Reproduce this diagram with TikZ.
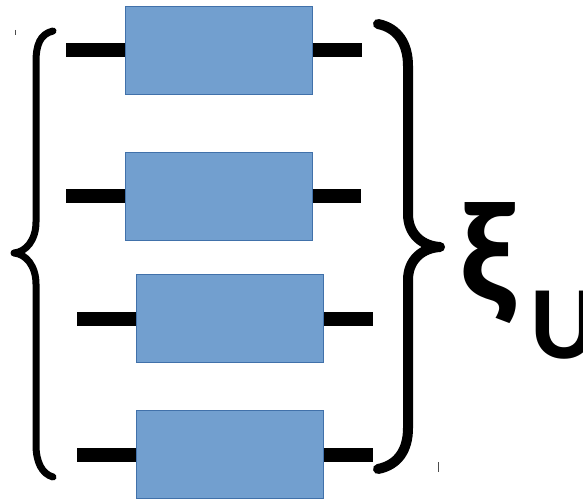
\documentclass[tikz,border=0pt]{standalone}
\usepackage{fontspec}
\setmainfont{Carlito}
\newfontfamily\labelfont{Carlito-Bold.ttf}
\definecolor{boxfill}{RGB}{114,159,207}
\definecolor{boxedge}{RGB}{65,113,170}
\begin{document}
\begin{tikzpicture}[x=1pt,y=-1pt,
  block/.style={draw=boxedge,fill=boxfill,line width=1pt,minimum width=187pt,minimum height=88pt,inner sep=0pt},
  lead/.style={line width=14pt,black},
  brace/.style={line width=#1,black,line cap=round,line join=round},
  tick/.style={line width=0.8pt,black!70}]
\useasboundingbox (0,0) rectangle (583,503);
% four resistor-like blocks with their leads
\node[block] (b1) at (218.5,50.5) {};
\node[block] (b2) at (218.5,196) {};
\node[block] (b3) at (230,318.5) {};
\node[block] (b4) at (230,454.5) {};
\coordinate (l1) at (66,50.5);  \coordinate (r1) at (362,50.5);
\coordinate (l2) at (66,196);   \coordinate (r2) at (361,196);
\coordinate (l3) at (77,318.5); \coordinate (r3) at (373,318.5);
\coordinate (l4) at (77,454.5); \coordinate (r4) at (373,454.5);
\foreach \i in {1,...,4}{
  \draw[lead] (l\i) -- (b\i.west);
  \draw[lead] (b\i.east) -- (r\i);
}
% left brace
\draw[brace=7pt] (53,31) .. controls (40,34) and (36,45) .. (36,62)
  -- (36,222) .. controls (36,240) and (26,252) .. (14,253)
  .. controls (26,254) and (36,266) .. (36,284)
  -- (36,445) .. controls (36,462) and (42,474) .. (53,477);
% right brace
\draw[brace=10pt] (378,24) .. controls (398,28) and (408,44) .. (408,66)
  -- (408,214) .. controls (408,234) and (422,246) .. (440,247)
  .. controls (422,248) and (408,260) .. (408,280)
  -- (408,428) .. controls (408,450) and (398,465) .. (378,469);
% label: xi with subscript U
\node[anchor=base west,inner sep=0pt,font=\labelfont\fontsize{145}{145}\selectfont] (xi) at (459,301) {ξ};
\node[anchor=base west,inner sep=0pt,font=\labelfont\fontsize{104}{104}\selectfont] (u) at (530,358) {U};
% small marks
\draw[tick] (15,30) -- (15,35);
\draw[tick] (438,462) -- (438,472);
\end{tikzpicture}
\end{document}
